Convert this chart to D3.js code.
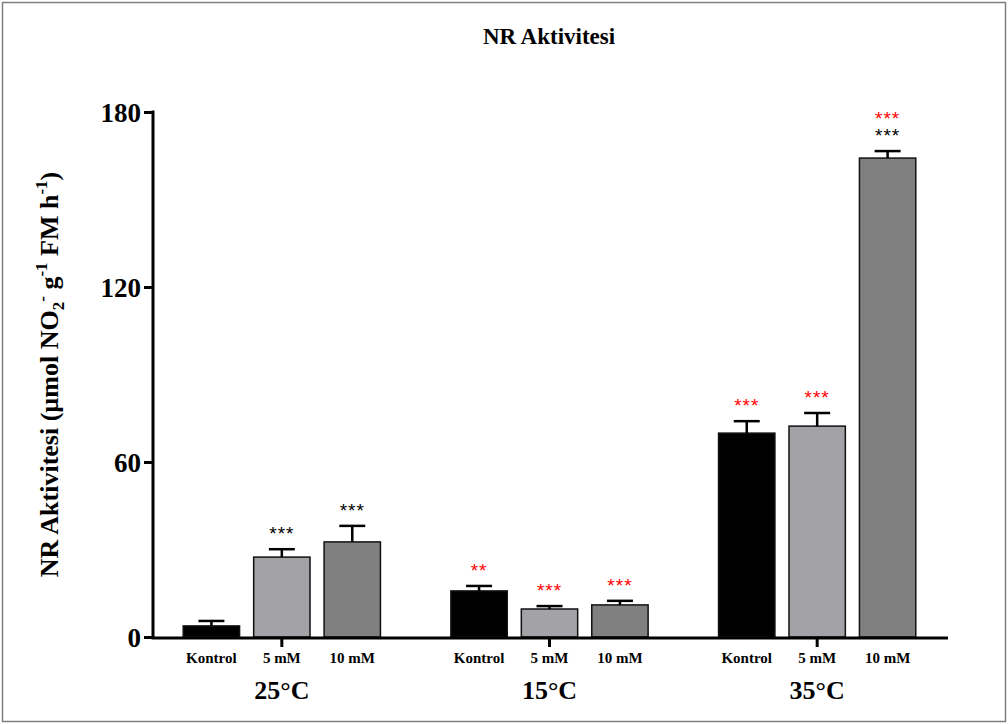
<!DOCTYPE html>
<html><head><meta charset="utf-8">
<script src="https://cdn.jsdelivr.net/npm/d3@7"></script>
<style>body{margin:0;background:#fff}svg{display:block}</style>
</head><body>
<script>
const groups = ["25°C", "15°C", "35°C"];
const treatments = ["Kontrol", "5 mM", "10 mM"];
const means25 = [3.8, 27.4, 32.6];
const means15 = [15.8, 9.6, 11.0];
const means35 = [69.9, 72.3, 164.2];
const err25 = [1.7, 2.7, 5.5];
const err15 = [1.7, 1.0, 1.4];
const err35 = [4.1, 4.5, 2.4];
const sigBlack25 = ["", "***", "***"];
const sigBlack15 = ["", "", ""];
const sigBlack35 = ["", "", "***"];
const sigRed25 = ["", "", ""];
const sigRed15 = ["**", "***", "***"];
const sigRed35 = ["***", "***", "***"];
const yTicks = [0, 60, 120, 180];
const barColors = ["#000000", "#a3a2a7", "#808080"];

const means = [means25, means15, means35];
const errs = [err25, err15, err35];
const sigB = [sigBlack25, sigBlack15, sigBlack35];
const sigR = [sigRed25, sigRed15, sigRed35];
const data = [];
groups.forEach((g, gi) => treatments.forEach((t, ti) => data.push({
  g, t, ti, v: means[gi][ti], e: errs[gi][ti], sb: sigB[gi][ti], sr: sigR[gi][ti]
})));

const W = 1008, H = 724;
const svg = d3.select("body").append("svg").attr("width", W).attr("height", H);
svg.append("rect").attr("x", 2.5).attr("y", 2.5).attr("width", W - 5).attr("height", H - 5)
  .attr("fill", "#fff").attr("stroke", "#7f7f7f").attr("stroke-width", 1.5);

const serif = "'Liberation Serif','Times New Roman',serif";
const y = d3.scaleLinear().domain([0, 180]).range([637, 112]);
const x0 = d3.scaleBand().domain(groups).range([148, 951]);
const x1 = d3.scaleBand().domain(treatments).range([0, x0.bandwidth()]).paddingInner(0.2).paddingOuter(0.5);
const axisLeft = 153, axisRight = 948;

svg.append("text").attr("x", 549).attr("y", 44).attr("text-anchor", "middle")
  .attr("font-family", serif).attr("font-weight", "bold").attr("font-size", 23).text("NR Aktivitesi");

// bars
const bx = d => x0(d.g) + x1(d.t);
svg.selectAll("rect.bar").data(data).join("rect").attr("class", "bar")
  .attr("x", bx).attr("width", x1.bandwidth())
  .attr("y", d => y(d.v)).attr("height", d => y(0) - y(d.v))
  .attr("fill", d => barColors[d.ti]).attr("stroke", "#111").attr("stroke-width", 1.5);

// error bars
const eg = svg.append("g").attr("stroke", "#000").attr("stroke-width", 2.5);
data.forEach(d => {
  const cx = bx(d) + x1.bandwidth() / 2;
  eg.append("line").attr("x1", cx).attr("x2", cx).attr("y1", y(d.v)).attr("y2", y(d.v + d.e));
  eg.append("line").attr("x1", cx - 13).attr("x2", cx + 13).attr("y1", y(d.v + d.e)).attr("y2", y(d.v + d.e));
});

// significance stars (stacked marks share one text element)
const starFont = "'Liberation Sans',Arial,sans-serif";
data.forEach(d => {
  if (!d.sb && !d.sr) return;
  const cx = bx(d) + x1.bandwidth() / 2;
  const base = y(d.v + d.e) - 9;
  const lines = [];
  if (d.sr) lines.push({ s: d.sr, c: "#ff0000" });
  if (d.sb) lines.push({ s: d.sb, c: "#000" });
  const t = svg.append("text").attr("x", cx).attr("y", base - (lines.length - 1) * 17)
    .attr("text-anchor", "middle").attr("font-family", starFont).attr("font-size", 19).attr("letter-spacing", 1);
  lines.forEach((l, i) => {
    t.append("tspan").attr("x", cx).attr("dy", i === 0 ? 0 : 17).attr("fill", l.c).text(l.s);
  });
});

// y axis
const ya = svg.append("g").attr("transform", `translate(${axisLeft},0)`)
  .call(d3.axisLeft(y).tickValues(yTicks).tickSize(9).tickPadding(3).tickFormat(d3.format("d")));
ya.select(".domain").attr("stroke-width", 3).attr("d", `M0,${y(180) - 1.5}V${y(0) + 1.5}`);
ya.selectAll(".tick line").attr("stroke-width", 3);
ya.selectAll(".tick text").attr("font-family", serif).attr("font-weight", "bold").attr("font-size", 27).attr("dy", "0.34em");

// x axis
svg.append("line").attr("x1", axisLeft - 1.5).attr("x2", axisRight).attr("y1", y(0) + 1).attr("y2", y(0) + 1)
  .attr("stroke", "#000").attr("stroke-width", 3);
const xa = svg.append("g").attr("transform", `translate(0,${y(0) + 1})`)
  .call(d3.axisBottom(x0).tickSize(9).tickFormat(""));
xa.select(".domain").remove();
xa.selectAll(".tick line").attr("stroke-width", 3);

// treatment labels
svg.selectAll("text.tl").data(data).join("text").attr("class", "tl")
  .attr("x", d => bx(d) + x1.bandwidth() / 2).attr("y", 663).attr("text-anchor", "middle")
  .attr("font-family", serif).attr("font-weight", "bold").attr("font-size", 15).text(d => d.t);

// group labels
svg.selectAll("text.gl").data(groups).join("text").attr("class", "gl")
  .attr("x", g => x0(g) + x0.bandwidth() / 2).attr("y", 699).attr("text-anchor", "middle")
  .attr("font-family", serif).attr("font-weight", "bold").attr("font-size", 26).text(g => g);

// y label
const yl = svg.append("text").attr("transform", `translate(58,${(y(0) + y(180)) / 2}) rotate(-90)`)
  .attr("text-anchor", "middle").attr("font-family", serif).attr("font-weight", "bold").attr("font-size", 26);
yl.append("tspan").text("NR Aktivitesi (µmol NO");
yl.append("tspan").attr("font-size", 17).attr("dy", 6).text("2");
yl.append("tspan").attr("font-size", 17).attr("dy", -16).text("-");
yl.append("tspan").attr("dy", 10).text(" g");
yl.append("tspan").attr("font-size", 17).attr("dy", -11).text("-1");
yl.append("tspan").attr("dy", 11).text(" FM h");
yl.append("tspan").attr("font-size", 17).attr("dy", -11).text("-1");
yl.append("tspan").attr("dy", 11).text(")");
</script>
</body></html>
